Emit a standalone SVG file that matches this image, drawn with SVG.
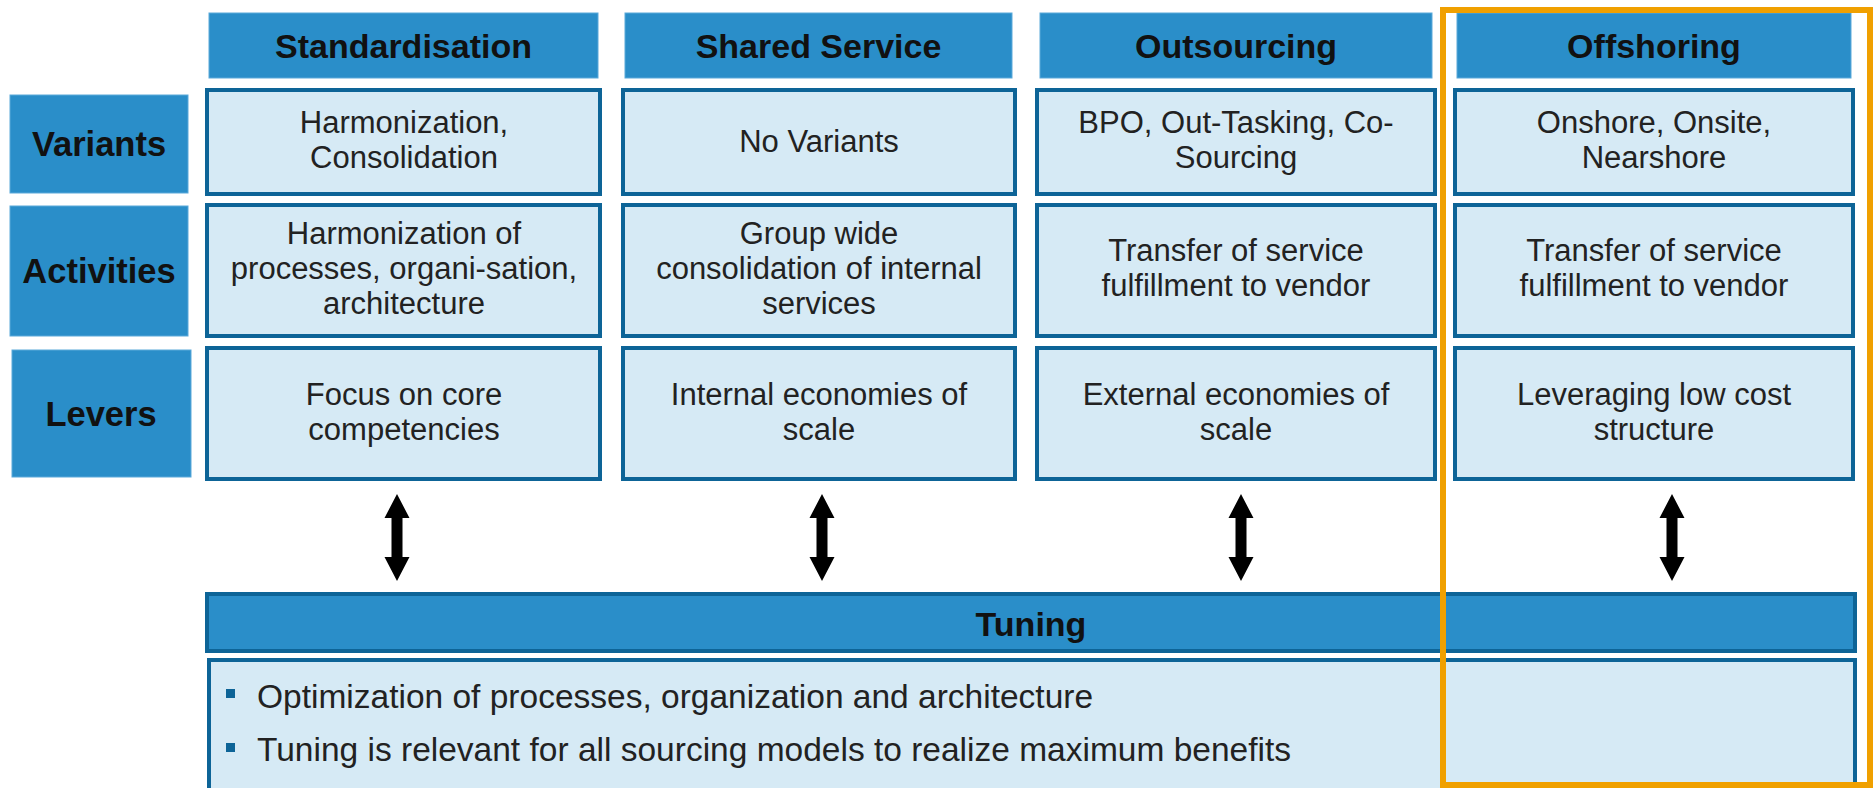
<svg xmlns="http://www.w3.org/2000/svg" width="1874" height="788" viewBox="0 0 1874 788">
<defs>
<style>
.hdr{fill:#2a8ec9;stroke:#5aa9da;stroke-width:1}
.lbl{fill:#2a8ec9;stroke:#5aa9da;stroke-width:1}
.cell{fill:#d6eaf5;stroke:#0d6497;stroke-width:4}
.bar{fill:#2a8ec9;stroke:#0d6497;stroke-width:4}
.ht{font-family:"Liberation Sans",Arial,sans-serif;font-weight:bold;font-size:34px;fill:#111;text-anchor:middle}
.lt{font-family:"Liberation Sans",Arial,sans-serif;font-weight:bold;font-size:34.5px;fill:#111;text-anchor:middle}
.ct{font-family:"Liberation Sans",Arial,sans-serif;font-size:31px;fill:#222;text-anchor:middle}
.bt{font-family:"Liberation Sans",Arial,sans-serif;font-size:33.5px;fill:#222}
.bul{fill:#0d6497}
.arr{fill:#000}
</style>
</defs>
<rect width="1874" height="788" fill="#fff"/>

<g id="hdr-standardisation"><rect class="hdr" x="209" y="13" width="389" height="65"/><text class="ht" x="403.5" y="58">Standardisation</text></g>
<g id="hdr-shared"><rect class="hdr" x="625" y="13" width="387" height="65"/><text class="ht" x="818.5" y="58">Shared Service</text></g>
<g id="hdr-outsourcing"><rect class="hdr" x="1040" y="13" width="392" height="65"/><text class="ht" x="1236" y="58">Outsourcing</text></g>
<g id="hdr-offshoring"><rect class="hdr" x="1457" y="13" width="394" height="65"/><text class="ht" x="1654" y="58">Offshoring</text></g>

<g id="lbl-variants"><rect class="lbl" x="10" y="95" width="178" height="98"/><text class="lt" x="99" y="156">Variants</text></g>
<g id="lbl-activities"><rect class="lbl" x="10" y="206" width="178" height="130"/><text class="lt" x="99" y="283">Activities</text></g>
<g id="lbl-levers"><rect class="lbl" x="12" y="350" width="179" height="127"/><text class="lt" x="101" y="426">Levers</text></g>

<g id="c1-variants"><rect class="cell" x="207" y="90" width="393" height="104"/><text class="ct" x="404" y="133">Harmonization,</text><text class="ct" x="404" y="168">Consolidation</text></g>
<g id="c2-variants"><rect class="cell" x="623" y="90" width="392" height="104"/><text class="ct" x="819" y="152">No Variants</text></g>
<g id="c3-variants"><rect class="cell" x="1037" y="90" width="398" height="104"/><text class="ct" x="1236" y="133">BPO, Out-Tasking, Co-</text><text class="ct" x="1236" y="168">Sourcing</text></g>
<g id="c4-variants"><rect class="cell" x="1455" y="90" width="398" height="104"/><text class="ct" x="1654" y="133">Onshore, Onsite,</text><text class="ct" x="1654" y="168">Nearshore</text></g>

<g id="c1-activities"><rect class="cell" x="207" y="205" width="393" height="131"/><text class="ct" x="404" y="244">Harmonization of</text><text class="ct" x="404" y="279">processes, organi-sation,</text><text class="ct" x="404" y="314">architecture</text></g>
<g id="c2-activities"><rect class="cell" x="623" y="205" width="392" height="131"/><text class="ct" x="819" y="244">Group wide</text><text class="ct" x="819" y="279">consolidation of internal</text><text class="ct" x="819" y="314">services</text></g>
<g id="c3-activities"><rect class="cell" x="1037" y="205" width="398" height="131"/><text class="ct" x="1236" y="261">Transfer of service</text><text class="ct" x="1236" y="296">fulfillment to vendor</text></g>
<g id="c4-activities"><rect class="cell" x="1455" y="205" width="398" height="131"/><text class="ct" x="1654" y="261">Transfer of service</text><text class="ct" x="1654" y="296">fulfillment to vendor</text></g>

<g id="c1-levers"><rect class="cell" x="207" y="348" width="393" height="131"/><text class="ct" x="404" y="405">Focus on core</text><text class="ct" x="404" y="440">competencies</text></g>
<g id="c2-levers"><rect class="cell" x="623" y="348" width="392" height="131"/><text class="ct" x="819" y="405">Internal economies of</text><text class="ct" x="819" y="440">scale</text></g>
<g id="c3-levers"><rect class="cell" x="1037" y="348" width="398" height="131"/><text class="ct" x="1236" y="405">External economies of</text><text class="ct" x="1236" y="440">scale</text></g>
<g id="c4-levers"><rect class="cell" x="1455" y="348" width="398" height="131"/><text class="ct" x="1654" y="405">Leveraging low cost</text><text class="ct" x="1654" y="440">structure</text></g>

<g id="connectors">
<polygon class="arr" points="397,494 409.5,518 402.5,518 402.5,557 409.5,557 397,581 384.5,557 391.5,557 391.5,518 384.5,518"/>
<polygon class="arr" points="822,494 834.5,518 827.5,518 827.5,557 834.5,557 822,581 809.5,557 816.5,557 816.5,518 809.5,518"/>
<polygon class="arr" points="1241,494 1253.5,518 1246.5,518 1246.5,557 1253.5,557 1241,581 1228.5,557 1235.5,557 1235.5,518 1228.5,518"/>
<polygon class="arr" points="1672,494 1684.5,518 1677.5,518 1677.5,557 1684.5,557 1672,581 1659.5,557 1666.5,557 1666.5,518 1659.5,518"/>
</g>

<g id="tuning-bar"><rect class="bar" x="207" y="594" width="1648" height="57"/><text class="ht" x="1031" y="636">Tuning</text></g>
<g id="tuning-body"><rect class="cell" x="209" y="660" width="1646" height="140"/>
<rect class="bul" x="226" y="689" width="9" height="9"/><text class="bt" x="257" y="708">Optimization of processes, organization and architecture</text>
<rect class="bul" x="226" y="743" width="9" height="9"/><text class="bt" x="257" y="761">Tuning is relevant for all sourcing models to realize maximum benefits</text>
</g>

<g id="highlight"><rect x="1443" y="10" width="427" height="775" fill="none" stroke="#f0a000" stroke-width="6"/></g>
</svg>
